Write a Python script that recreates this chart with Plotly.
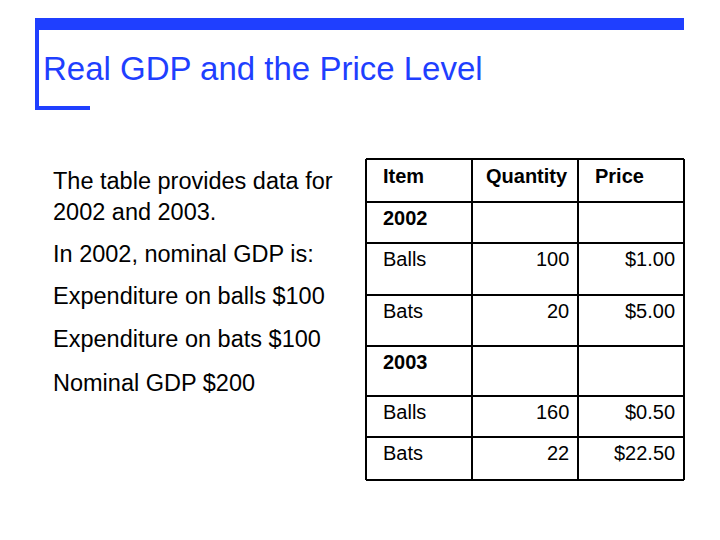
import plotly.graph_objects as go

title = "Real GDP and the Price Level"
left_text = ["The table provides data for<br>2002 and 2003.", "In 2002, nominal GDP is:",
             "Expenditure on balls $100", "Expenditure on bats $100", "Nominal GDP $200"]
left_y = [196, 254, 296, 339, 383]
header = ["Item", "Quantity", "Price"]
items = ["2002", "Balls", "Bats", "2003", "Balls", "Bats"]
quantities = ["", "100", "20", "", "160", "22"]
prices = ["", "$1.00", "$5.00", "", "$0.50", "$22.50"]
bold_rows = [True, False, False, True, False, False]

row_edges = [159, 202, 243, 295, 346, 396, 437, 480]
col_edges = [366, 472, 578, 684]
BLUE = "#1f3fff"
FONT = "Liberation Sans, Arial, sans-serif"
OFF = 8  # page body margin

fig = go.Figure()
shapes = []
shapes.append(dict(type="rect", x0=36, x1=684, y0=18, y1=30, fillcolor=BLUE, line_width=0))
shapes.append(dict(type="rect", x0=35, x1=39, y0=18, y1=110, fillcolor=BLUE, line_width=0))
shapes.append(dict(type="rect", x0=35, x1=90, y0=106, y1=110, fillcolor=BLUE, line_width=0))
for y in row_edges:
    shapes.append(dict(type="line", x0=col_edges[0], x1=col_edges[-1], y0=y, y1=y, line=dict(color="black", width=2)))
for x in col_edges:
    shapes.append(dict(type="line", x0=x, x1=x, y0=row_edges[0], y1=row_edges[-1], line=dict(color="black", width=2)))

ann = []
ann.append(dict(x=41, y=68, text=title, xanchor="left", yanchor="middle", showarrow=False,
                font=dict(size=33, color=BLUE, family=FONT)))
for t, y in zip(left_text, left_y):
    ann.append(dict(x=51, y=y, text=t, xanchor="left", yanchor="middle", showarrow=False, align="left",
                    font=dict(size=23.5, color="black", family=FONT)))
hy = row_edges[0] + 17
FS = 20
ann.append(dict(x=381, y=hy, text="<b>" + header[0] + "</b>", xanchor="left", showarrow=False, font=dict(size=FS, family=FONT, color="black")))
ann.append(dict(x=570, y=hy, text="<b>" + header[1] + "</b>", xanchor="right", showarrow=False, font=dict(size=FS, family=FONT, color="black")))
ann.append(dict(x=593, y=hy, text="<b>" + header[2] + "</b>", xanchor="left", showarrow=False, font=dict(size=FS, family=FONT, color="black")))
for i in range(len(items)):
    y = row_edges[i + 1] + 16
    it = "<b>" + items[i] + "</b>" if bold_rows[i] else items[i]
    ann.append(dict(x=381, y=y, text=it, xanchor="left", showarrow=False, font=dict(size=FS, family=FONT, color="black")))
    ann.append(dict(x=571, y=y, text=quantities[i], xanchor="right", showarrow=False, font=dict(size=FS, family=FONT, color="black")))
    ann.append(dict(x=677, y=y, text=prices[i], xanchor="right", showarrow=False, font=dict(size=FS, family=FONT, color="black")))

fig.update_layout(width=720, height=540, margin=dict(l=0, r=0, t=0, b=0),
                  plot_bgcolor="white", paper_bgcolor="white", shapes=shapes, annotations=ann,
                  xaxis=dict(range=[OFF, 720 + OFF], visible=False, fixedrange=True),
                  yaxis=dict(range=[540 + OFF, OFF], visible=False, fixedrange=True), showlegend=False)
fig.write_html("out.html")
